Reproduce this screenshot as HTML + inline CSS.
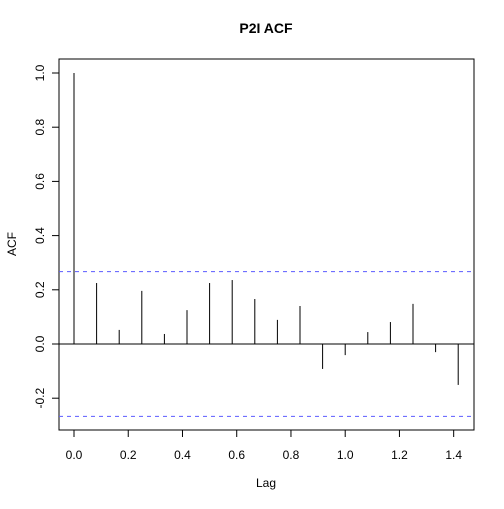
<!DOCTYPE html>
<html><head><meta charset="utf-8"><style>
body{margin:0;background:#fff}
text{font-family:"Liberation Sans",Arial,sans-serif;fill:#000}
</style></head><body>
<svg id="c" width="504" height="504" xmlns="http://www.w3.org/2000/svg">
<rect width="504" height="504" fill="#fff"/>
<text x="266" y="33" font-size="14" font-weight="bold" text-anchor="middle">P2I ACF</text>
<text x="266" y="487" font-size="12" text-anchor="middle">Lag</text>
<text x="16" y="244" font-size="12" text-anchor="middle" transform="rotate(-90 16 244)">ACF</text>
<rect x="59" y="59" width="415" height="371" fill="none" stroke="#000"/>
<g id="g"></g>
</svg>
<script>
const acfValues=[1.0,0.225,0.052,0.196,0.037,0.125,0.225,0.236,0.166,0.089,0.140,-0.092,-0.041,0.044,0.081,0.148,-0.030,-0.151];
const lagStep=1/12;
const ciBound=0.267;
const xTicks=[0,0.2,0.4,0.6,0.8,1.0,1.2,1.4];
const yTicks=[-0.2,0,0.2,0.4,0.6,0.8,1.0];
const xs=v=>74+v*271.2, ys=v=>344-v*271;
const g=document.getElementById('g'),NS='http://www.w3.org/2000/svg';
function el(t,a){const e=document.createElementNS(NS,t);for(const k in a)e.setAttribute(k,a[k]);g.appendChild(e);return e;}
let e=el('line',{x1:59,x2:474,y1:ys(0),y2:ys(0),stroke:'#000'});


[ciBound,-ciBound].forEach((b,i)=>{const l=el('line',{x1:59,x2:474,y1:ys(b),y2:ys(b),stroke:'#5b5bff','stroke-dasharray':'4,4'});

});
acfValues.forEach((v,i)=>{const x=xs(i*lagStep);const l=el('line',{x1:x,x2:x,y1:ys(0),y2:ys(v),stroke:'#000'});

});
xTicks.forEach(t=>{const x=xs(t);const l=el('line',{x1:x,x2:x,y1:430,y2:437,stroke:'#000'});


const tx=el('text',{x:x,y:459,'font-size':12,'text-anchor':'middle'});tx.textContent=t.toFixed(1);

});
yTicks.forEach(t=>{const y=ys(t);const l=el('line',{x1:52,x2:59,y1:y,y2:y,stroke:'#000'});


const tx=el('text',{x:44,y:y,'font-size':12,'text-anchor':'middle',transform:`rotate(-90 44 ${y})`});tx.textContent=t.toFixed(1);

});
</script>
</body></html>
